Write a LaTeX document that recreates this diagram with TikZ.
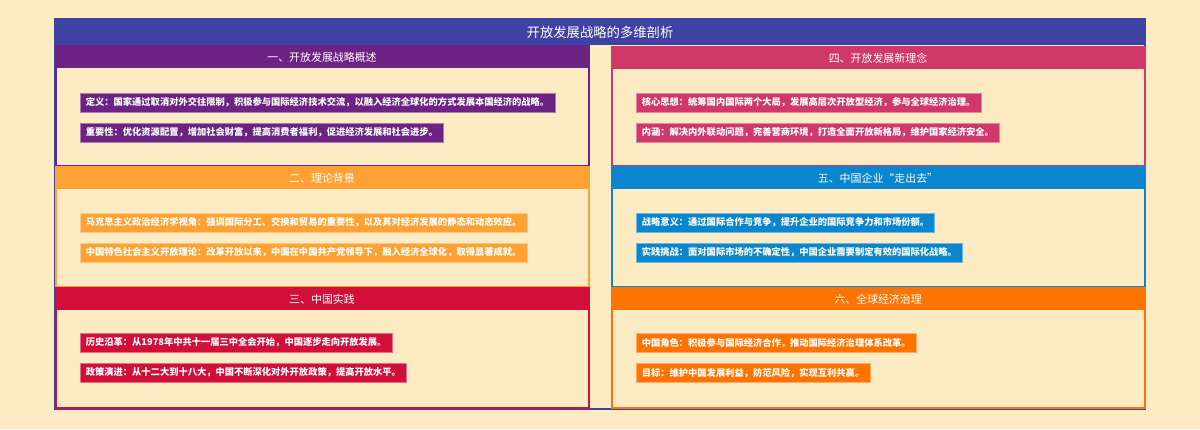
\documentclass[tikz,border=0pt]{standalone}
\usepackage{fontspec}
\newfontfamily\cjk{Noto Sans CJK SC}
\begin{document}
\begin{tikzpicture}[x=0.75pt,y=-0.75pt,font=\cjk,
  hdr/.style={text=white,font=\cjk\fontsize{8.2}{9}\selectfont},
  item/.style={anchor=west,text=white,inner xsep=4.2pt,minimum height=14.25pt,font=\cjk\bfseries\fontsize{6.95}{8}\selectfont}]
\definecolor{bg}{HTML}{FDEBC4}
\definecolor{ttl}{HTML}{4042A3}
\definecolor{cA}{HTML}{6C2384}
\definecolor{cB}{HTML}{FFA233}
\definecolor{cC}{HTML}{D20F38}
\definecolor{cD}{HTML}{D0386A}
\definecolor{cE}{HTML}{0A86CF}
\definecolor{cF}{HTML}{FF7400}
\fill[bg] (0,0) rectangle (1200,429);
\useasboundingbox (0,0) rectangle (1200,429);
\draw[ttl,line width=1pt] (55,19) rectangle (1145,409);
\fill[ttl] (55,19) rectangle (1145,45);
\node[text=white,font=\cjk\fontsize{10}{12}\selectfont] (title) at (600,32) {开放发展战略的多维剖析};
% panels
\foreach \c/\xa/\xb/\ya/\yb in {cA/56/589/46/166,cB/56/589/167/287,cC/56/589/288/408,cD/612/1145/47/166,cE/612/1145/167/287,cF/612/1145/288/408}{
  \draw[\c,line width=0.8pt] (\xa,\ya) rectangle (\xb,\yb);
  \fill[\c] (\xa,\ya) rectangle (\xb,\ya+22);
}
\node[hdr] (h1) at (322,57) {一、开放发展战略概述};
\node[hdr] (h2) at (322,178) {二、理论背景};
\node[hdr] (h3) at (322,299) {三、中国实践};
\node[hdr] (h4) at (878,58) {四、开放发展新理念};
\node[hdr] (h5) at (878,178) {五、中国企业“走出去”};
\node[hdr] (h6) at (878,299) {六、全球经济治理};
\node[item,fill=cA,draw=cA!60!white] (a1) at (80,102.5) {定义：国家通过取消对外交往限制，积极参与国际经济技术交流，以融入经济全球化的方式发展本国经济的战略。};
\node[item,fill=cA,draw=cA!60!white] (a2) at (80,132.5) {重要性：优化资源配置，增加社会财富，提高消费者福利，促进经济发展和社会进步。};
\node[item,fill=cB,draw=cB!60!white] (b1) at (80,222.5) {马克思主义政治经济学视角：强调国际分工、交换和贸易的重要性，以及其对经济发展的静态和动态效应。};
\node[item,fill=cB,draw=cB!60!white] (b2) at (80,252.5) {中国特色社会主义开放理论：改革开放以来，中国在中国共产党领导下，融入经济全球化，取得显著成就。};
\node[item,fill=cC,draw=cC!60!white] (c1) at (80,342.5) {历史沿革：从1978年中共十一届三中全会开始，中国逐步走向开放发展。};
\node[item,fill=cC,draw=cC!60!white] (c2) at (80,372.5) {政策演进：从十二大到十八大，中国不断深化对外开放政策，提高开放水平。};
\node[item,fill=cD,draw=cD!60!white] (d1) at (636,102.5) {核心思想：统筹国内国际两个大局，发展高层次开放型经济，参与全球经济治理。};
\node[item,fill=cD,draw=cD!60!white] (d2) at (636,132.5) {内涵：解决内外联动问题，完善营商环境，打造全面开放新格局，维护国家经济安全。};
\node[item,fill=cE,draw=cE!60!white] (e1) at (636,222.5) {战略意义：通过国际合作与竞争，提升企业的国际竞争力和市场份额。};
\node[item,fill=cE,draw=cE!60!white] (e2) at (636,252.5) {实践挑战：面对国际市场的不确定性，中国企业需要制定有效的国际化战略。};
\node[item,fill=cF,draw=cF!60!white] (f1) at (636,343) {中国角色：积极参与国际经济合作，推动国际经济治理体系改革。};
\node[item,fill=cF,draw=cF!60!white] (f2) at (636,373) {目标：维护中国发展利益，防范风险，实现互利共赢。};
\end{tikzpicture}
\end{document}
